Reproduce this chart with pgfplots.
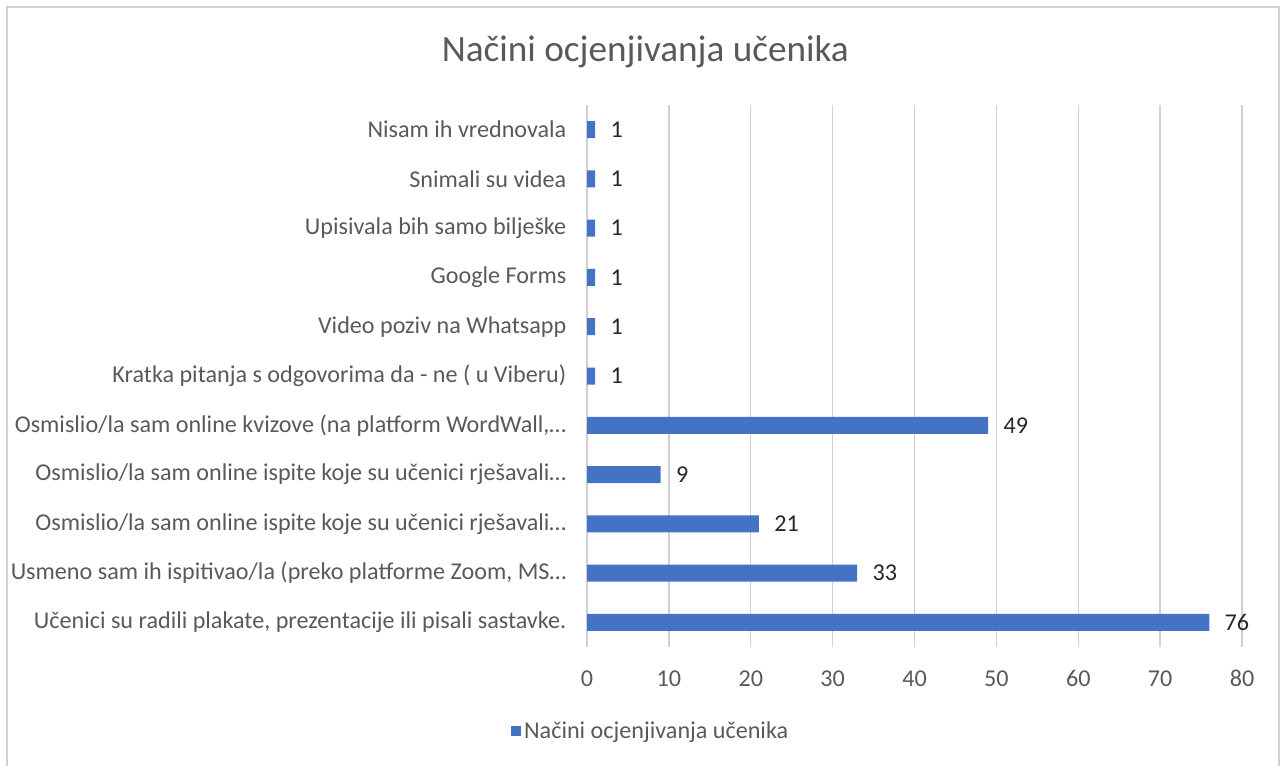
\documentclass[border=0pt]{standalone}
\usepackage{pgfplots}
\pgfplotsset{compat=1.18}
\usepackage{fontspec}
\setmainfont{Carlito}
\definecolor{barblue}{HTML}{4472C4}
\definecolor{gridgray}{HTML}{D0D0D0}
\definecolor{txtgray}{HTML}{595959}
\begin{document}
\begin{tikzpicture}
\useasboundingbox (0pt,0pt) rectangle (963.75pt,573.75pt);
\draw[gridgray,line width=1.2pt] (5.25pt,-5pt) -- (5.25pt,568.5pt) -- (959.25pt,568.5pt) -- (959.25pt,-5pt);
\node[txtgray,font=\fontsize{27.9}{32}\selectfont] at (484pt,535pt) {Načini ocjenjivanja učenika};
\begin{axis}[
  at={(440.25pt,88.5pt)}, anchor=south west,
  scale only axis, width=491.25pt, height=406.5pt,
  xbar, bar width=0.345,
  xmin=0, xmax=80, ymin=-0.5, ymax=10.5,
  xtick={0,10,...,80},
  ytick={0,...,10},
  yticklabels={{Učenici su radili plakate, prezentacije ili pisali sastavke.},
    {Usmeno sam ih ispitivao/la (preko platforme Zoom, MS…},
    {Osmislio/la sam online ispite koje su učenici rješavali…},
    {Osmislio/la sam online ispite koje su učenici rješavali…},
    {Osmislio/la sam online kvizove (na platform WordWall,…},
    {Kratka pitanja s odgovorima da - ne ( u Viberu)},
    {Video poziv na Whatsapp},
    {Google Forms},
    {Upisivala bih samo bilješke},
    {Snimali su videa},
    {Nisam ih vrednovala}},
  xmajorgrids, major grid style={gridgray, line width=1pt},
  axis x line*=bottom,
  x axis line style={draw=none},
  axis y line*=left,
  y axis line style={gridgray, line width=1pt},
  major tick length=0pt,
  tick label style={txtgray, font=\fontsize{18.1}{21}\selectfont},
  /pgf/number format/assume math mode=true,
  yticklabel style={xshift=-12pt},
  xticklabel style={yshift=-14pt},
  nodes near coords,
  nodes near coords style={black!85, font=\fontsize{18.1}{21}\selectfont, anchor=west, xshift=8pt},
  every node near coord/.append style={/pgf/number format/assume math mode=true},
  legend style={at={(0.098,-0.155)}, anchor=center, draw=none, fill=none,
    font=\fontsize{18.1}{21}\selectfont, text=txtgray},
  legend image code/.code={\fill[barblue] (0pt,-3.8pt) rectangle (7.5pt,3.8pt);},
  clip=false,
]
\addplot[fill=barblue, draw=none] coordinates {
  (76,0) (33,1) (21,2) (9,3) (49,4) (1,5) (1,6) (1,7) (1,8) (1,9) (1,10)};
\addlegendentry{Načini ocjenjivanja učenika}
\end{axis}
\end{tikzpicture}
\end{document}
